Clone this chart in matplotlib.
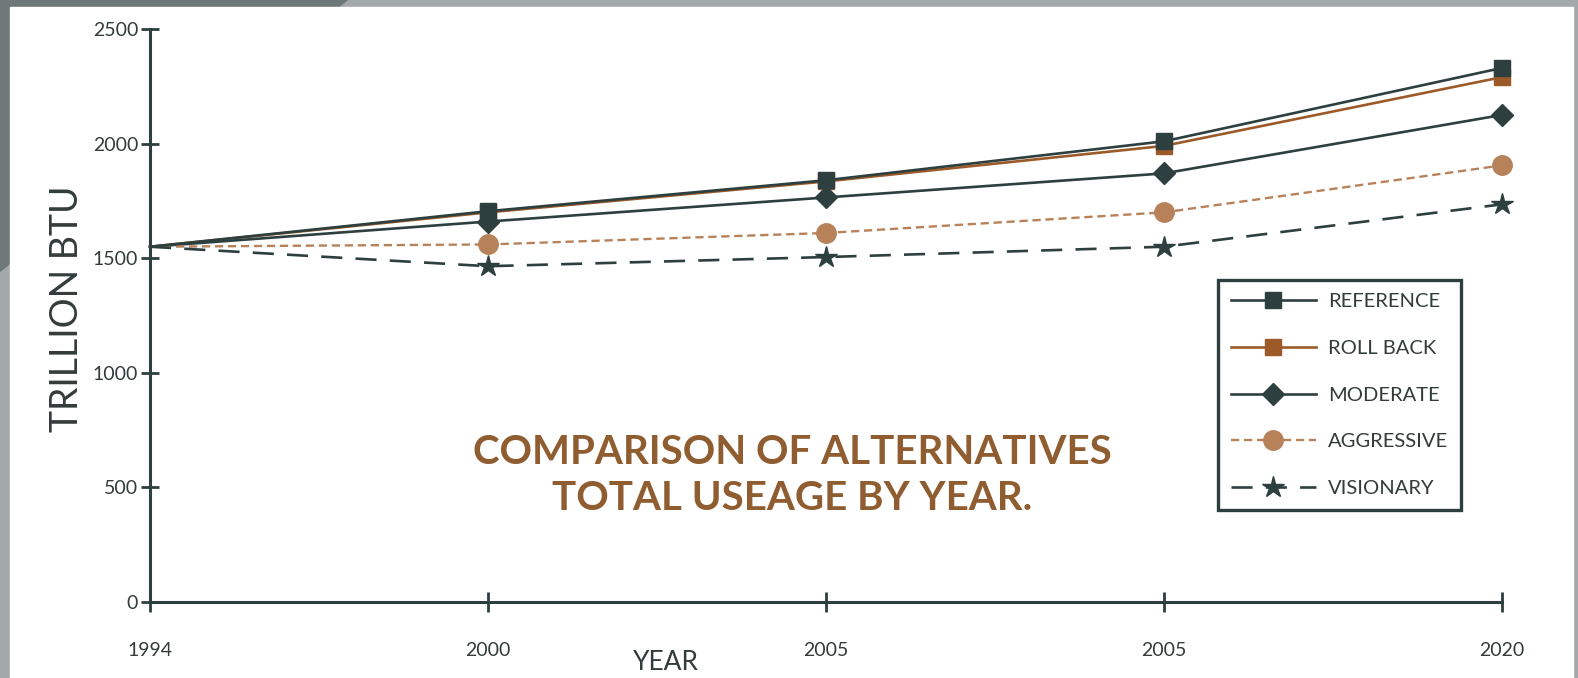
import matplotlib.pyplot as plt
from matplotlib.patches import Rectangle, Polygon

plt.rcParams['font.family'] = ['Lato', 'DejaVu Sans']

years = ['1994', '2000', '2005', '2005', '2020']
reference = [1550, 1705, 1840, 2010, 2330]
roll_back = [1550, 1700, 1835, 1990, 2290]
moderate = [1550, 1660, 1765, 1870, 2125]
aggressive = [1550, 1560, 1610, 1700, 1905]
visionary = [1550, 1465, 1505, 1550, 1735]

dark = '#2d3f3f'
brown = '#9c5a29'
tan = '#b7825a'

fig = plt.figure(figsize=(15.78, 6.78), dpi=100)
fig.patch.set_facecolor('#a3a8a8')
# grey card edge + white panel
fig.patches.append(Polygon([(0, 1), (0.22, 1), (0.0, 0.6)], closed=True,
                           transform=fig.transFigure, color='#6f7878', zorder=-3))
fig.patches.append(Rectangle((10 / 1578, 0), 1563 / 1578, 1 - 7 / 678,
                             transform=fig.transFigure, color='white', zorder=-2))

ax = fig.add_axes([150 / 1578, 1 - 602 / 678, (1502 - 150) / 1578, (602 - 29) / 678])
ax.set_facecolor('none')

x = range(len(years))
ax.plot(x, roll_back, color=brown, lw=1.9, marker='s', ms=11.5, label='ROLL BACK', zorder=3)
ax.plot(x, reference, color=dark, lw=1.9, marker='s', ms=11.5, label='REFERENCE', zorder=4)
ax.plot(x, moderate, color=dark, lw=1.9, marker='D', ms=11, label='MODERATE', zorder=3)
ax.plot(x, aggressive, color=tan, lw=1.7, ls=(0, (3.5, 2)), marker='o', ms=14,
        label='AGGRESSIVE', zorder=3)
ax.plot(x, visionary, color=dark, lw=1.9, ls=(0, (8, 5)), marker='*', ms=16,
        label='VISIONARY', zorder=3)

# markers not at origin point
for line in ax.lines:
    line.set_markevery([1, 2, 3, 4])
    line.set_clip_on(False)

ax.set_xlim(0, 4)
ax.set_ylim(0, 2500)
ax.set_xticks(list(x))
ax.set_xticklabels(years)
ax.set_yticks([0, 500, 1000, 1500, 2000, 2500])
for s in ['top', 'right']:
    ax.spines[s].set_visible(False)
for s in ['left', 'bottom']:
    ax.spines[s].set_color(dark)
    ax.spines[s].set_linewidth(2.2)
ax.tick_params(axis='both', direction='inout', color=dark, width=2, labelcolor='#333b3b',
               labelsize=14)
ax.tick_params(axis='y', length=13, pad=2)
ax.tick_params(axis='x', length=15, pad=21)

fig.text(67 / 1578, 1 - 309 / 678, 'TRILLION BTU', rotation=90, ha='center', va='center',
         fontsize=27, color='#333b3b')
fig.text(666 / 1578, 1 - 663 / 678, 'YEAR', ha='center', va='center',
         fontsize=19, color='#333b3b')

fig.text(792 / 1578, 1 - 452 / 678, 'COMPARISON OF ALTERNATIVES', ha='center', va='center',
         fontsize=29, fontweight='bold', color='#8f5d30')
fig.text(792 / 1578, 1 - 499 / 678, 'TOTAL USEAGE BY YEAR.', ha='center', va='center',
         fontsize=29, fontweight='bold', color='#8f5d30')

h, l = ax.get_legend_handles_labels()
order = [1, 0, 2, 3, 4]
leg = ax.legend([h[i] for i in order], [l[i] for i in order],
                loc='upper left', bbox_to_anchor=((1218 - 150) / 1352, 1 - (280 - 29) / 573),
                fancybox=False, edgecolor=dark, framealpha=1, fontsize=14.5,
                handlelength=4.2, labelspacing=1.47, borderpad=0.65, handletextpad=0.6,
                borderaxespad=0, labelcolor='#333b3b')
leg.get_frame().set_linewidth(2.4)
for lh in leg.get_lines():
    lh.set_markevery([1])

fig.savefig('out.png', dpi=100, facecolor=fig.get_facecolor())
